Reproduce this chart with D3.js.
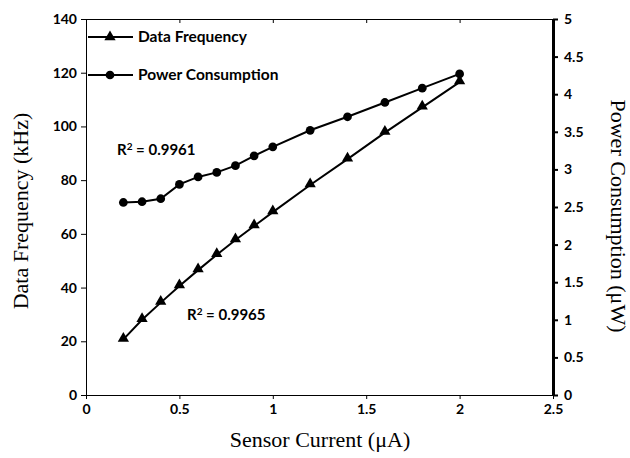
<!DOCTYPE html>
<html>
<head>
<meta charset="utf-8">
<script src="https://cdn.jsdelivr.net/npm/d3@7"></script>
<style>
  body { margin: 0; background: #fff; }
  .tick text { font-family: Lato, "Open Sans", sans-serif; font-weight: bold; font-size: 14px; fill: #000; }
</style>
</head>
<body>
<div id="chart"></div>
<script>
const current = [0.2, 0.3, 0.4, 0.5, 0.6, 0.7, 0.8, 0.9, 1.0, 1.2, 1.4, 1.6, 1.8, 2.0];
const dataFreq = [20.7, 28, 34.4, 40.6, 46.5, 52.2, 57.7, 62.9, 68.1, 78.2, 87.8, 97.7, 107.1, 116.5];
const powerUW = [2.56, 2.57, 2.61, 2.80, 2.90, 2.96, 3.05, 3.18, 3.30, 3.52, 3.70, 3.89, 4.08, 4.27];
const xTicks = [0, 0.5, 1, 1.5, 2, 2.5];
const yLeftTicks = [0, 20, 40, 60, 80, 100, 120, 140];
const yRightTicks = [0, 0.5, 1, 1.5, 2, 2.5, 3, 3.5, 4, 4.5, 5];

let dim = {width: 630, height: 458};
let m = {left: 86, right: 553, top: 19, bottom: 395};

let svg = d3.select('#chart').append('svg')
    .attr('width', dim.width).attr('height', dim.height);

let x = d3.scaleLinear().domain([0, 2.5]).range([m.left, m.right]);
let yL = d3.scaleLinear().domain([0, 140]).range([m.bottom, m.top]);
let yR = d3.scaleLinear().domain([0, 5]).range([m.bottom, m.top]);

// top border with small inward ticks
svg.append('g')
    .attr('transform', `translate(0,${m.top})`)
    .call(d3.axisBottom(x).tickValues(xTicks).tickSize(4).tickFormat(''))
    .call(g => g.selectAll('path,line').attr('stroke', '#000'));

svg.append('g')
    .attr('transform', `translate(0,${m.bottom})`)
    .call(d3.axisBottom(x).tickValues(xTicks).tickSize(4).tickSizeOuter(0).tickPadding(5).tickFormat(d3.format('')))
    .call(g => g.selectAll('path,line').attr('stroke', '#000'));

svg.append('g')
    .attr('transform', `translate(${m.left},0)`)
    .call(d3.axisLeft(yL).tickValues(yLeftTicks).tickSize(5).tickSizeOuter(0).tickPadding(4))
    .call(g => g.selectAll('path,line').attr('stroke', '#000'));

svg.append('g')
    .attr('transform', `translate(${m.right},0)`)
    .call(d3.axisRight(yR).tickValues(yRightTicks).tickSize(5).tickSizeOuter(0).tickPadding(6).tickFormat(d3.format('')))
    .call(g => g.select('.domain').attr('stroke', '#000').attr('stroke-width', 3))
    .call(g => g.selectAll('line').attr('stroke', '#000').attr('stroke-width', 2));

// series
let freqPts = current.map((c, i) => [x(c), yL(dataFreq[i])]);
let powPts = current.map((c, i) => [x(c), yR(powerUW[i])]);

svg.append('path').attr('d', d3.line()(powPts))
    .attr('fill', 'none').attr('stroke', '#000').attr('stroke-width', 2);
svg.append('path').attr('d', d3.line()(freqPts))
    .attr('fill', 'none').attr('stroke', '#000').attr('stroke-width', 2);

let tri = d3.symbol().type(d3.symbolTriangle).size(55);
let circ = d3.symbol().type(d3.symbolCircle).size(60);

svg.selectAll('.pw').data(powPts).enter().append('path')
    .attr('d', circ).attr('transform', d => `translate(${d[0]},${d[1]})`).attr('fill', '#000');
svg.selectAll('.fq').data(freqPts).enter().append('path')
    .attr('d', tri).attr('transform', d => `translate(${d[0]},${d[1] - 1})`).attr('fill', '#000');

// legend
const legend = [{label: 'Data Frequency', sym: tri, y: 37}, {label: 'Power Consumption', sym: circ, y: 75}];
legend.forEach(l => {
  svg.append('line').attr('x1', 88).attr('x2', 133).attr('y1', l.y).attr('y2', l.y)
      .attr('stroke', '#000').attr('stroke-width', 2);
  svg.append('path').attr('d', l.sym).attr('transform', `translate(110,${l.y})`).attr('fill', '#000');
  svg.append('text').attr('x', 138).attr('y', l.y + 5).text(l.label)
      .style('font-family', 'Lato, sans-serif').style('font-weight', 'bold').style('font-size', '15.5px');
});

// R² annotations
function r2(tx, ty, val) {
  let t = svg.append('text').attr('x', tx).attr('y', ty)
      .style('font-family', 'Lato, sans-serif').style('font-weight', 'bold').style('font-size', '15px');
  t.append('tspan').text('R');
  t.append('tspan').attr('dy', -5).style('font-size', '10px').text('2');
  t.append('tspan').attr('dy', 5).text(' = ' + val);
}
r2(117, 155, '0.9961');
r2(187, 320, '0.9965');

// axis titles
const serif = '"Liberation Serif", "Times New Roman", serif';
svg.append('text').attr('x', 320).attr('y', 447).attr('text-anchor', 'middle')
    .style('font-family', serif).style('font-size', '22px').text('Sensor Current (μA)');
svg.append('text').attr('transform', 'translate(28,211) rotate(-90)')
    .attr('text-anchor', 'middle').style('font-family', serif).style('font-size', '22px').text('Data Frequency (kHz)');
svg.append('text').attr('transform', 'translate(611,216) rotate(90)')
    .attr('text-anchor', 'middle').style('font-family', serif).style('font-size', '22px').text('Power Consumption (μW)');
</script>
</body>
</html>
